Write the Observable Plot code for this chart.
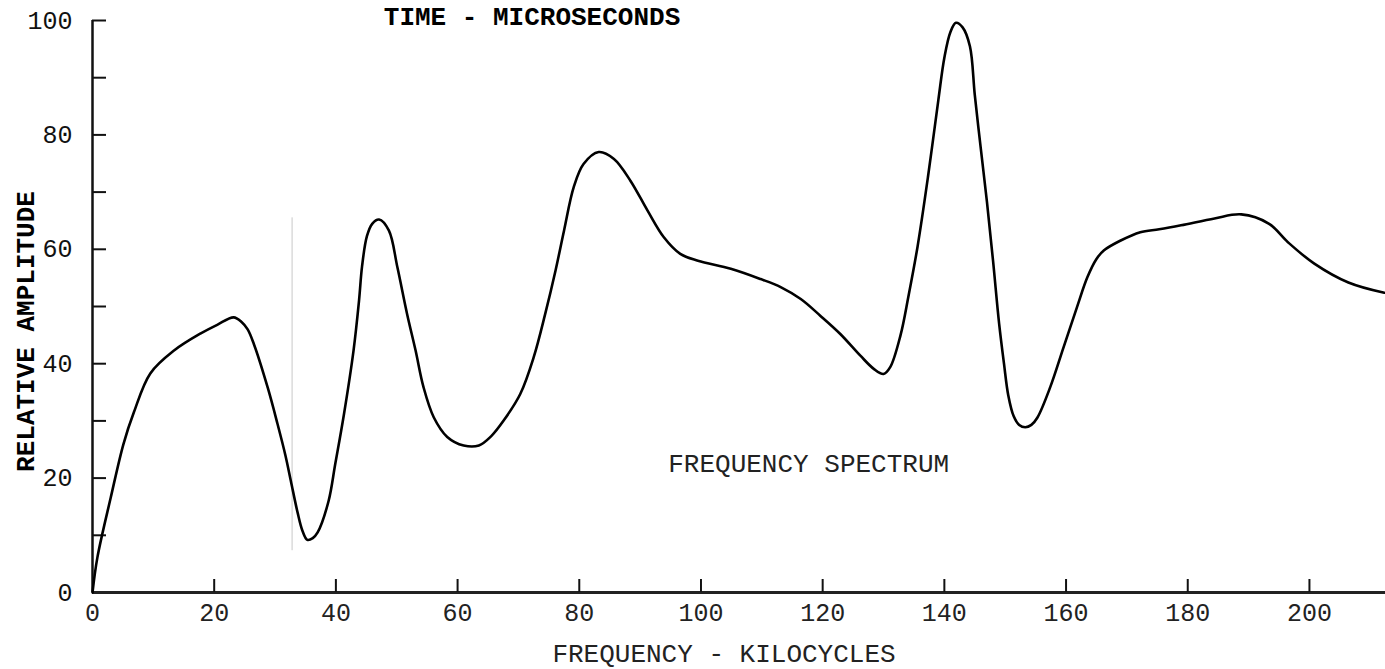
<!DOCTYPE html>
<html>
<head>
<meta charset="utf-8">
<script src="https://cdn.jsdelivr.net/npm/d3@7"></script>
<script src="https://cdn.jsdelivr.net/npm/@observablehq/plot@0.6"></script>
<style>
  html, body { margin: 0; padding: 0; background: #fff; }
  #chart svg { display: block; }
</style>
</head>
<body>
<div id="chart"></div>
<script>
// Frequency (kilocycles) and relative amplitude
const freq = [0, 0.8, 3, 5.1, 6.8, 9.5, 13.4, 17.8, 20.5, 23.2,
  24.5, 25.5, 26.5, 28.8, 30.4, 31.7, 32.6, 33.7, 34.5, 35.3,
  36.2, 37, 38.8, 39.9, 41.3, 42.9, 43.8, 44.3, 45.1, 46,
  47.1, 48.7, 50.1, 51.7, 53.1, 54.4, 56.1, 58.3, 61, 63.5,
  65.5, 67.6, 70.3, 72.5, 74.4, 76.1, 77.5, 79.1, 80.7, 83.2,
  85.7, 88.4, 91.2, 93.9, 96.6, 99.5, 104.9, 109.8, 113.1, 116.4,
  119.6, 122.9, 126.2, 128.4, 130, 131.1, 132.8, 134.1, 135.6, 137.3,
  139, 140, 141, 141.9, 143, 144.2, 145, 146, 147, 148,
  149, 149.8, 150.5, 151.4, 152.3, 153.3, 154.3, 155.3, 157.4, 159.6,
  161.8, 163.5, 165, 166.2, 168.9, 172.2, 175.3, 178.9, 184.4, 188.8,
  193.3, 196.5, 200.8, 206.4, 212.3];
const amp = [0, 6.1, 16.6, 26, 31.5, 38.3, 42.3, 45.3, 46.8, 48.1,
  47.3, 46, 43.5, 35.8, 29.5, 24, 19.5, 14, 10.8, 9.2,
  9.5, 10.5, 16, 22.5, 31, 42.3, 51, 57, 62.3, 64.5,
  65.2, 63.3, 56.9, 48.7, 42.3, 35.9, 30.6, 27.2, 25.7, 25.7,
  27.3, 30.1, 34.7, 41.1, 48.7, 56.3, 63.3, 70.9, 74.9, 77,
  75.8, 72, 66.8, 62.1, 59.2, 58, 56.6, 54.8, 53.4, 51.3,
  48.4, 45.2, 41.4, 39.1, 38.2, 39.4, 45, 51.8, 60.5, 72.6,
  86, 93.5, 98, 99.6, 98.8, 95.5, 87, 77.5, 68.3, 58,
  47, 40, 34.5, 30.8, 29.3, 28.9, 29.3, 30.6, 35.9, 42.9,
  49.9, 55.1, 58.3, 59.8, 61.5, 63, 63.5, 64.2, 65.4, 66.1,
  64.5, 61.2, 57.5, 54.2, 52.4];

const xTicks = [0, 20, 40, 60, 80, 100, 120, 140, 160, 180, 200];
const xTickMarks = [20, 40, 60, 80, 100, 120, 140, 160, 180, 200];
const yTicks = [0, 20, 40, 60, 80, 100];
const yTickMarks = [10, 20, 30, 40, 50, 60, 70, 80, 90, 100];

const titleTop = "TIME - MICROSECONDS";
const xLabel = "FREQUENCY - KILOCYCLES";
const yLabel = "RELATIVE AMPLITUDE";
const annotation = ["FREQUENCY SPECTRUM"];
const annotationX = [117.7];
const annotationY = [22.6];

// faint vertical pencil line visible in the scan
const faintX = [32.8];
const faintY = [7.3, 65.5];

const data = freq.map((f, i) => ({f, a: amp[i]}));

const W = 1385, H = 669;
const mL = 92, mR = 0, mT = 20, mB = 77;
const FONT = "'Liberation Mono', 'DejaVu Sans Mono', monospace";

const chart = Plot.plot({
  width: W,
  height: H,
  marginLeft: mL,
  marginRight: mR,
  marginTop: mT,
  marginBottom: mB,
  style: {fontFamily: FONT, background: "#fff", color: "#111"},
  x: {domain: [0, 212.5]},
  y: {domain: [0, 100]},
  marks: [
    Plot.ruleX(faintX, {x: d => d, y1: faintY[0], y2: faintY[1], stroke: "#c8c8c8", strokeWidth: 1}),
    Plot.ruleX([0], {stroke: "#111", strokeWidth: 2.5}),
    Plot.ruleY([0], {stroke: "#222", strokeWidth: 3}),
    Plot.tickY(yTickMarks, {y: d => d, stroke: "#111", strokeWidth: 2, insetRight: (W - mL - mR) - 14}),
    Plot.tickX(xTickMarks, {x: d => d, stroke: "#111", strokeWidth: 2, insetTop: (H - mT - mB) - 13}),
    Plot.axisX(xTicks, {tickSize: 0, tickPadding: 11, fontSize: 25, fill: "#222", label: null, tickFormat: d => String(d)}),
    Plot.axisY(yTicks, {tickSize: 0, tickPadding: 20, fontSize: 25, fill: "#111", label: null, tickFormat: d => String(d)}),
    Plot.line(data, {x: "f", y: "a", curve: "catmull-rom", stroke: "#000", strokeWidth: 2.6}),
    Plot.text(annotation, {x: (d, i) => annotationX[i], y: (d, i) => annotationY[i], text: d => d, fontSize: 26, fill: "#222"}),
    Plot.text([titleTop], {frameAnchor: "top", textAnchor: "middle", lineAnchor: "middle", dx: -207, dy: -4, text: d => d, fontSize: 26, fontWeight: "bold", fill: "#000"}),
    Plot.text([xLabel], {frameAnchor: "bottom", textAnchor: "middle", lineAnchor: "middle", dx: -15, dy: 61, text: d => d, fontSize: 26, fill: "#222"}),
    Plot.text([yLabel], {frameAnchor: "left", textAnchor: "middle", lineAnchor: "middle", dx: -67, dy: 25, rotate: -90, text: d => d, fontSize: 26, fontWeight: "bold", fill: "#000"})
  ]
});

document.getElementById("chart").appendChild(chart);
</script>
</body>
</html>
